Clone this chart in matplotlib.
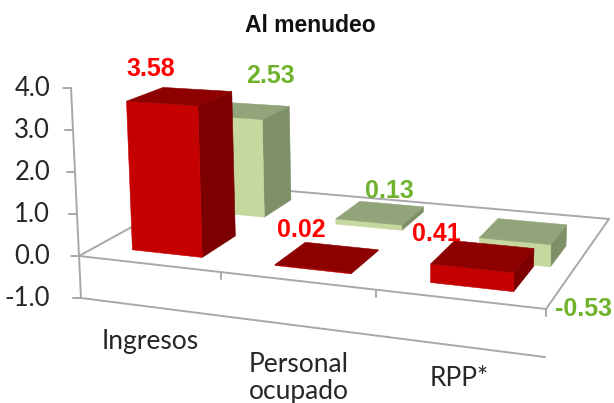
"""
Al menudeo: barras 3D en perspectiva, proyectadas a pixeles de la figura
"""
import matplotlib
matplotlib.use("Agg")
import matplotlib.pyplot as plt
import numpy as np
from matplotlib.patches import Polygon

TITLE = "Al menudeo"
CATEGORIES = ["Ingresos", "Personal\nocupado", "RPP*"]
RED_VALUES = [3.58, 0.02, 0.41]
GREEN_VALUES = [2.53, 0.13, -0.53]
Y_TICKS = [4.0, 3.0, 2.0, 1.0, 0.0, -1.0]

RED_COLOR = "#c40000"
RED_TOP = "#8e0000"
RED_SIDE = "#7c0000"
GREEN_COLOR = "#c6d89e"
GREEN_TOP = "#92a47a"
GREEN_SIDE = "#7f8f68"
LABEL_RED = "#ff0000"
LABEL_GREEN = "#6fb32d"
AXIS_COLOR = "#a8a8ac"
TEXT_COLOR = "#262626"

# esquinas del piso: frente-izq, frente-der, fondo-der, fondo-izq
FLOOR = [(79, 256), (546, 309), (609, 219), (210, 184)]
Z_SCALE = 42.0


def solve_homography(corners):
    src = [(0, 0), (1, 0), (1, 1), (0, 1)]
    a, b = [], []
    for (u, v), (x, y) in zip(src, corners):
        a.append([u, v, 1, 0, 0, 0, -u * x, -v * x])
        a.append([0, 0, 0, u, v, 1, -u * y, -v * y])
        b += [x, y]
    return np.append(np.linalg.solve(np.array(a, float), np.array(b, float)), 1).reshape(3, 3)


H = solve_homography(FLOOR)


def project(cat, depth, z):
    """cat en 0..3 (categorias), depth en 0..1, z en unidades del eje"""
    p = H @ np.array([cat / 3, depth, 1.0])
    x, y = p[0] / p[2], p[1] / p[2]
    s = Z_SCALE / p[2]
    tilt = -2 + 3 * (x - 79) / 467
    return x + tilt * z, y - s * z


def draw_bar(ax, center, half, d0, d1, value, front, top, side, order):
    c0, c1 = center - half, center + half
    lo, hi = min(0, value), max(0, value)
    fl, fr = (c0, d0), (c1, d0)
    bl, br = (c0, d1), (c1, d1)
    faces = [
        ([(*fr, lo), (*br, lo), (*br, hi), (*fr, hi)], side),
        ([(*fl, lo), (*fr, lo), (*fr, hi), (*fl, hi)], front),
        ([(*fl, hi), (*fr, hi), (*br, hi), (*bl, hi)], top),
    ]
    for pts, color in faces:
        xy = [project(*p) for p in pts]
        ax.add_patch(Polygon(xy, closed=True, facecolor=color, edgecolor=color,
                             linewidth=0.4, zorder=order))


def axis_line(ax, a, b, lw=1.4):
    ax.plot([a[0], b[0]], [a[1], b[1]], color=AXIS_COLOR, linewidth=lw,
            solid_capstyle="round", zorder=1)


fig = plt.figure(figsize=(6.14, 4.03), dpi=100)
ax = fig.add_axes([0, 0, 1, 1])
ax.set_xlim(0, 614)
ax.set_ylim(403, 0)
ax.axis("off")

# piso y ejes
axis_line(ax, project(0, 0, 0), project(3, 0, 0))
axis_line(ax, project(3, 0, 0), project(3, 1, 0))
axis_line(ax, project(3, 1, 0), project(0, 1, 0))
axis_line(ax, project(0, 1, 0), project(0, 0, 0))
axis_line(ax, project(0, 0, -1), project(3, 0, -1))
axis_line(ax, project(0, 0, Y_TICKS[-1]), project(0, 0, Y_TICKS[0]))
for t in Y_TICKS:
    x, y = project(0, 0, t)
    axis_line(ax, (x - 8, y), (x, y))
    ax.text(50, y + 1, f"{t:.1f}", ha="right", va="center", fontsize=18.5,
            family="Lato", color=TEXT_COLOR)
for i in range(1, 4):
    x, y = project(i, 0, 0)
    axis_line(ax, (x, y), (x, y + 7))

# verdes atras, rojas adelante
for i in range(3):
    draw_bar(ax, i + 0.525, 0.235, 0.63, 0.88, GREEN_VALUES[i], GREEN_COLOR, GREEN_TOP, GREEN_SIDE, 2 + i * 0.1)
for i in range(3):
    draw_bar(ax, i + 0.51, 0.25, 0.12, 0.38, RED_VALUES[i], RED_COLOR, RED_TOP, RED_SIDE, 3 + i * 0.1)

# etiquetas de datos
RED_LABEL_POS = [(151, 69), (301, 230), (436, 234)]
GREEN_LABEL_POS = [(270, 76), (389, 191), (583, 309)]
for vals, pos, color in [(RED_VALUES, RED_LABEL_POS, LABEL_RED),
                         (GREEN_VALUES, GREEN_LABEL_POS, LABEL_GREEN)]:
    for v, (x, y) in zip(vals, pos):
        ax.text(x, y, f"{v:.2f}", ha="center", va="center", fontsize=18,
                fontweight="bold", family="Liberation Sans", color=color, zorder=5)

CATEGORY_POS = [(150, 341), (299, 378), (459, 378)]
for name, (x, y) in zip(CATEGORIES, CATEGORY_POS):
    ax.text(x, y, name, ha="center", va="center", fontsize=19, family="Lato",
            color=TEXT_COLOR, linespacing=1.05, zorder=5)

ax.text(310, 26, TITLE, ha="center", va="center", fontsize=16.5, fontweight="bold",
        family="Liberation Sans", color="#111111")

fig.savefig("out.png", dpi=100)
